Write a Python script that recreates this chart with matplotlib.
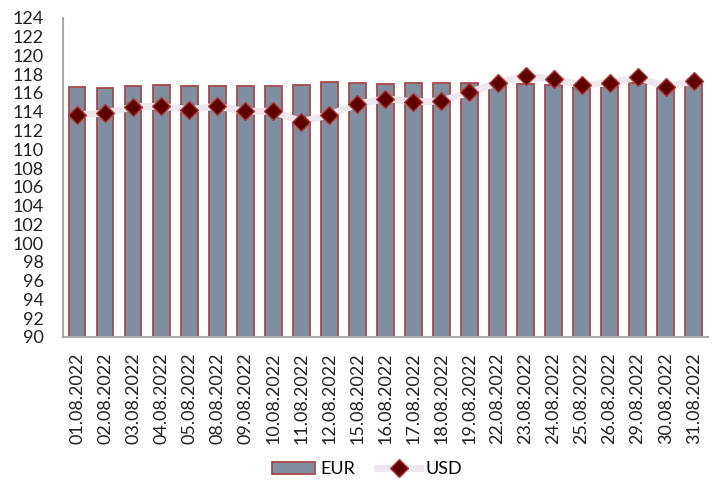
import matplotlib
matplotlib.use('Agg')
import matplotlib.pyplot as plt
import numpy as np

dates = ['01.08.2022', '02.08.2022', '03.08.2022', '04.08.2022', '05.08.2022',
         '08.08.2022', '09.08.2022', '10.08.2022', '11.08.2022', '12.08.2022',
         '15.08.2022', '16.08.2022', '17.08.2022', '18.08.2022', '19.08.2022',
         '22.08.2022', '23.08.2022', '24.08.2022', '25.08.2022', '26.08.2022',
         '29.08.2022', '30.08.2022', '31.08.2022']
eur = [116.63, 116.56, 116.74, 116.86, 116.74, 116.78, 116.74, 116.70, 116.86, 117.14,
       117.05, 117.00, 117.10, 117.08, 117.08, 117.08, 116.92, 116.86, 116.78, 116.92,
       117.08, 117.08, 117.08]
usd = [113.67, 113.85, 114.52, 114.59, 114.22, 114.59, 114.04, 114.04, 112.93, 113.67,
       114.80, 115.40, 115.04, 115.15, 116.07, 117.08, 117.82, 117.44, 116.82, 117.08,
       117.67, 116.63, 117.30]

plt.rcParams['font.family'] = ['Lato', 'DejaVu Sans']

fig = plt.figure(figsize=(7.2, 4.84), dpi=100)
ax = fig.add_axes([0.0875, 0.304, 0.8955, 0.659])

x = np.arange(len(dates))
bars = ax.bar(x, eur, width=0.6, color='#7f8fa0', edgecolor='#a54a4a',
              linewidth=1.3, label='EUR', zorder=2)
line, = ax.plot(x, usd, color='#ece8ee', linewidth=5, marker='D', markersize=9,
                markerfacecolor='#5e0000', markeredgecolor='#b03a3a', markeredgewidth=1,
                label='USD', zorder=3)

ax.set_ylim(90, 124)
ax.set_xlim(-0.5, 22.5)
ax.set_yticks(range(90, 125, 2))
ax.set_xticks(x)
ax.set_xticklabels(dates, rotation=90)
ax.tick_params(axis='both', length=0, labelsize=13, colors='#222222')
ax.tick_params(axis='x', pad=11)
ax.tick_params(axis='y', pad=14)
for s in ['top', 'right']:
    ax.spines[s].set_visible(False)
for s in ['left', 'bottom']:
    ax.spines[s].set_color('#aaaaaa')
    ax.spines[s].set_linewidth(1.5)

fig.legend([bars, line], ['EUR', 'USD'], loc='center', bbox_to_anchor=(0.51, 0.03),
           ncol=2, frameon=False, fontsize=13, handlelength=2.4,
           columnspacing=1.2, handletextpad=0.3)

fig.savefig('out.png', dpi=100)
